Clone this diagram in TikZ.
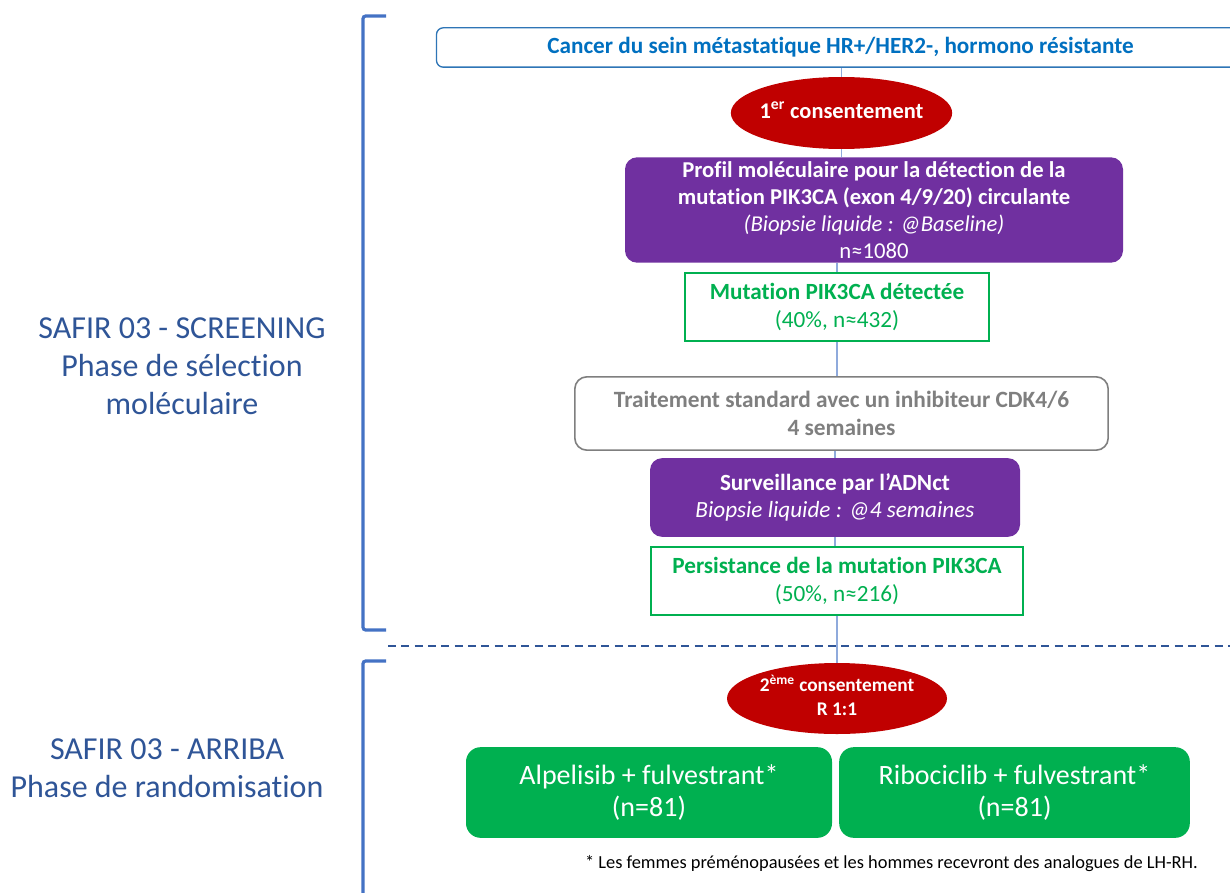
\documentclass[tikz,border=0pt]{standalone}
\usepackage{fontspec}
\setmainfont{Carlito}[Ligatures=NoCommon]
\usetikzlibrary{shapes.geometric}
\definecolor{titleblue}{HTML}{0070C0}
\definecolor{boxblue}{HTML}{2E75B6}
\definecolor{brk}{HTML}{4472C4}
\definecolor{dash}{HTML}{2F5597}
\definecolor{lbl}{HTML}{2F5597}
\definecolor{conn}{HTML}{8FAADC}
\definecolor{redel}{HTML}{C00000}
\definecolor{purp}{HTML}{7030A0}
\definecolor{grn}{HTML}{00B050}
\definecolor{gry}{HTML}{7F7F7F}
\tikzset{
  box/.style={inner sep=0pt, align=center, rounded corners=#1},
  box/.default=0pt,
  consent/.style={ellipse, inner sep=0pt, fill=redel, text=white},
  conline/.style={draw=conn, line width=0.9pt},
  bracket/.style={draw=brk, line width=2.4pt, rounded corners=2pt},
}
\begin{document}
\begin{tikzpicture}[x=0.75pt,y=-0.75pt]
\useasboundingbox (0,0) rectangle (1230,892);
% brackets and dashed separator
\draw[bracket] (386,16) -- (363,16) -- (363,630) -- (386,630);
\draw[bracket] (386,661) -- (363,661) -- (363,900);
\draw[draw=dash, line width=2pt, dash pattern=on 6pt off 4pt] (388,646) -- (1236,646);
% left labels
\node[lbl, align=center, font=\fontsize{24}{28.5}\selectfont] (lab1) at (182,366.5)
  {SAFIR 03 - SCREENING\\Phase de sélection\\moléculaire};
\node[lbl, align=center, font=\fontsize{24}{28.5}\selectfont] (lab2) at (167,768)
  {SAFIR 03 - ARRIBA\\Phase de randomisation};
% nodes
\node[box=5pt, draw=boxblue, line width=1pt, fill=white, minimum width=606pt, minimum height=29.5pt,
  text=titleblue, font=\bfseries\fontsize{17.4}{20}\selectfont] (b1) at (840.5,47.5)
  {Cancer du sein métastatique HR+/HER2-, hormono résistante};
\node[consent, minimum width=166pt, minimum height=54pt,
  font=\bfseries\fontsize{16.8}{18}\selectfont] (e1) at (841.5,113)
  {\makebox[0pt]{\raisebox{4.5pt}{1\textsuperscript{er} consentement}}};
\node[box=9pt, fill=purp, minimum width=373.5pt, minimum height=79pt,
  text=white, font=\fontsize{17}{20.3}\selectfont] (p1) at (874,210)
  {\textbf{Profil moléculaire pour la détection de la}\\
   \textbf{mutation PIK3CA (exon 4/9/20) circulante}\\
   \textit{(Biopsie liquide : @Baseline)}\\
   n≈1080};
\node[box, draw=grn, line width=1.2pt, fill=white, minimum width=228pt, minimum height=51pt,
  text=grn, font=\fontsize{17.4}{21}\selectfont] (g1) at (837,307)
  {\textbf{Mutation PIK3CA détectée}\\(40\%, n≈432)};
\node[box=9pt, draw=gry, line width=1.2pt, fill=white, minimum width=400pt, minimum height=55pt,
  text=gry, font=\bfseries\fontsize{17.5}{21}\selectfont] (t1) at (841.5,413.5)
  {Traitement standard avec un inhibiteur CDK4/6\\4 semaines};
\node[box=9pt, fill=purp, minimum width=277.5pt, minimum height=59pt,
  text=white, font=\fontsize{17.4}{20.3}\selectfont] (p2) at (835,497.5)
  {\textbf{Surveillance par l’ADNct}\\\textit{Biopsie liquide : @4 semaines}};
\node[box, draw=grn, line width=1.2pt, fill=white, minimum width=279pt, minimum height=51pt,
  text=grn, font=\fontsize{17.4}{21}\selectfont] (g2) at (837,581)
  {\textbf{Persistance de la mutation PIK3CA}\\(50\%, n≈216)};
\node[consent, minimum width=165pt, minimum height=53.25pt,
  font=\bfseries\fontsize{14.5}{18}\selectfont] (e2) at (837,698.5)
  {\makebox[0pt]{\raisebox{-1pt}{\begin{tabular}{@{}c@{}}2\textsuperscript{ème} consentement\\R 1:1\end{tabular}}}};
\node[box=11pt, fill=grn, minimum width=274.5pt, minimum height=68pt,
  text=white, font=\fontsize{21}{24}\selectfont] (a1) at (649,792.5)
  {Alpelisib + fulvestrant*\\(n=81)};
\node[box=11pt, fill=grn, minimum width=263pt, minimum height=68pt,
  text=white, font=\fontsize{21}{24}\selectfont] (a2) at (1014.5,792.5)
  {Ribociclib + fulvestrant*\\(n=81)};
\node[anchor=east, inner sep=0pt, font=\fontsize{13.8}{16}\selectfont] (fn) at (1198,864)
  {* Les femmes préménopausées et les hommes recevront des analogues de LH-RH.};
% connectors
\draw[conline] (e1.north |- b1.south) -- (e1.north);
\draw[conline] (e1.south) -- (e1.south |- p1.north);
\draw[conline] (g1.north |- p1.south) -- (g1.north);
\draw[conline] (g1.south) -- (g1.south |- t1.north);
\draw[conline] (p2.north |- t1.south) -- (p2.north);
\draw[conline] (p2.south) -- (p2.south |- g2.north);
\draw[conline] (g2.south) -- (e2.north);
\end{tikzpicture}
\end{document}
